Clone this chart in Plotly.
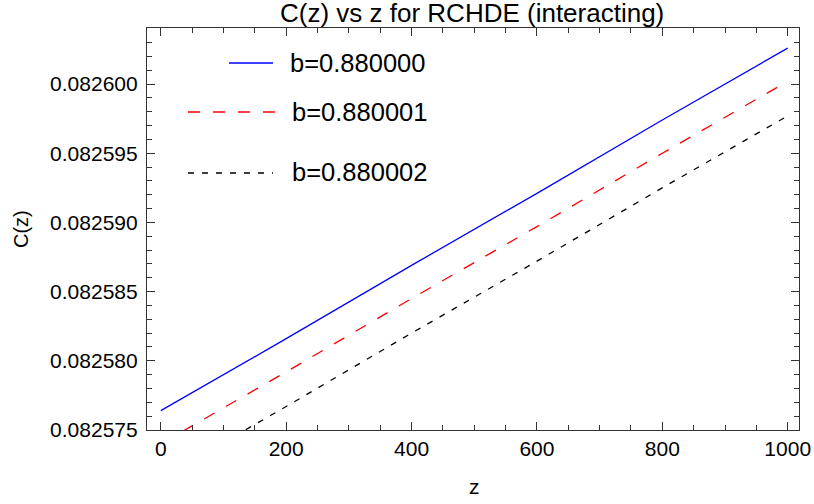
import plotly.graph_objects as go

# Data
z = [0, 200, 400, 600, 800, 1000]
c_b0 = [0.0825764, 0.0825816, 0.0825869, 0.0825921, 0.0825974, 0.0826026]
c_b1 = [0.0825740, 0.0825792, 0.0825845, 0.0825897, 0.0825950, 0.0826002]
c_b2 = [0.0825715, 0.0825767, 0.0825820, 0.0825872, 0.0825925, 0.0825977]
labels = ["b=0.880000", "b=0.880001", "b=0.880002"]
x_ticks = [0, 200, 400, 600, 800, 1000]
y_ticks = [0.082575, 0.082580, 0.082585, 0.082590, 0.082595, 0.082600]

W, H = 814, 504
L, R, T, B = 147, 15, 28, 74
PW, PH = W - L - R, H - T - B

def px(x):
    return (x - L) / PW

def py(y):
    return 1 - (y - T) / PH

FONT = "Liberation Sans, Arial, sans-serif"
colors = ["#0000FF", "#FF0000", "#000000"]
dashes = ["solid", "12px,13px", "6px,8px"]

fig = go.Figure()
for ys, col, d, name in zip([c_b0, c_b1, c_b2], colors, dashes, labels):
    fig.add_trace(go.Scatter(x=z, y=ys, mode="lines", name=name,
                             line=dict(color=col, width=1.3, dash=d),
                             showlegend=False))

axis_common = dict(
    showgrid=False, zeroline=False, showline=True, linecolor="#333333",
    linewidth=1.2, mirror="allticks", ticks="inside", ticklen=8,
    tickwidth=1, tickcolor="#333333",
    tickfont=dict(family=FONT, size=21, color="black"),
)

fig.update_xaxes(range=[-22, 1018], tickvals=x_ticks,
                 minor=dict(dtick=50, ticks="inside", ticklen=5, tickcolor="#333333"),
                 **axis_common)
fig.update_yaxes(range=[0.082575, 0.08260405], tickvals=y_ticks, tickformat=".6f",
                 ticklabelstandoff=4,
                 minor=dict(dtick=0.000001, ticks="inside", ticklen=5, tickcolor="#333333"),
                 **axis_common)

# Legend drawn inside the frame like the reference
legend_rows = [
    (229, 273, 63, 288, 63),
    (188, 277, 112, 290, 112),
    (188, 273, 173, 290, 172),
]
for (x0, x1, yl, xt, yt), col, d, name in zip(legend_rows, colors, dashes, labels):
    fig.add_shape(type="line", xref="paper", yref="paper",
                  x0=px(x0), x1=px(x1), y0=py(yl), y1=py(yl),
                  line=dict(color=col, width=1.3, dash=d))
    fig.add_annotation(xref="paper", yref="paper", x=px(xt), y=py(yt),
                       xanchor="left", yanchor="middle", showarrow=False,
                       text=name, font=dict(family=FONT, size=25.5, color="black"))

fig.add_annotation(xref="paper", yref="paper", x=px(21), y=py(229),
                   xanchor="center", yanchor="middle", showarrow=False, textangle=-90,
                   text="C(z)", font=dict(family=FONT, size=20, color="black"))
fig.add_annotation(xref="paper", yref="paper", x=px(474), y=py(486),
                   xanchor="center", yanchor="middle", showarrow=False,
                   text="z", font=dict(family=FONT, size=21, color="black"))
# Title
fig.add_annotation(xref="paper", yref="paper", x=px(472), y=py(13),
                   xanchor="center", yanchor="middle", showarrow=False,
                   text="C(z) vs z for RCHDE (interacting)",
                   font=dict(family=FONT, size=26, color="black"))

fig.update_layout(
    width=W, height=H,
    margin=dict(l=L, r=R, t=T, b=B, autoexpand=False),
    paper_bgcolor="white", plot_bgcolor="white",
)

fig.write_html("out.html", config={"displayModeBar": False},
               post_script="document.body.style.margin='0px';")
